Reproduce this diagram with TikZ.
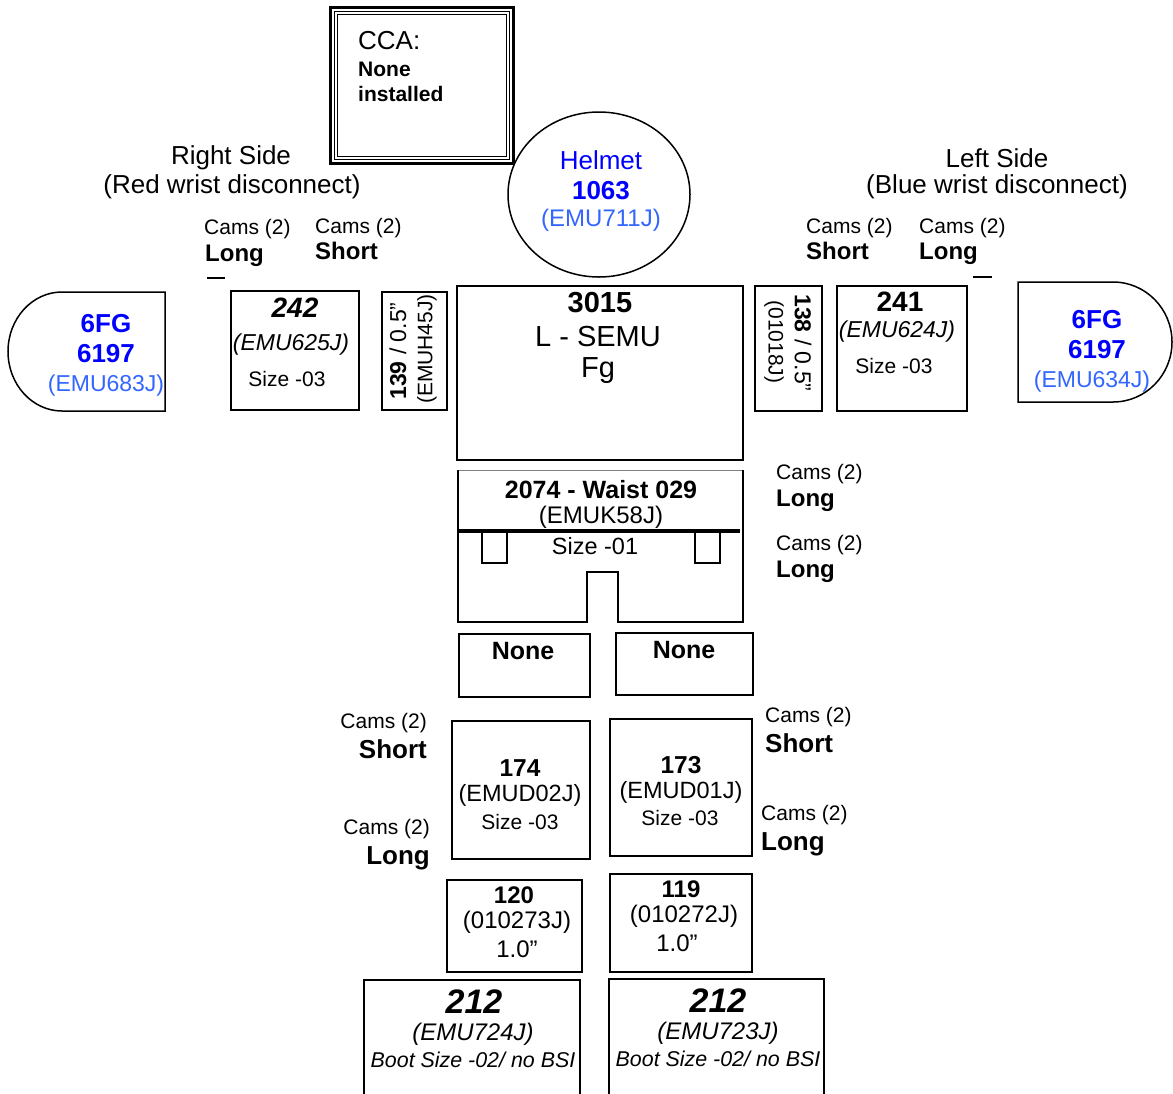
\documentclass[tikz,border=0pt]{standalone}
\usepackage{fontspec}
\setmainfont{Liberation Sans}
\usetikzlibrary{shapes.geometric}
\definecolor{hblue}{RGB}{0,0,255}
\definecolor{lblue}{RGB}{51,102,255}
\newcommand\fz[1]{\fontsize{#1pt}{#1pt}\selectfont}
\begin{document}
\begin{tikzpicture}[x=1pt,y=-1pt,
  lw/.style={line width=1.5pt},
  box/.style={draw,line width=1.5pt,fill=white,inner sep=0pt,anchor=north west},
  t/.style={inner sep=0pt,align=center},
  tl/.style={inner sep=0pt,anchor=west},
  tr/.style={inner sep=0pt,anchor=east},
  cams/.style={font=\fz{21},text height=15.1pt,text depth=0pt},
  lng/.style={font=\bfseries\fz{24},text height=17.3pt,text depth=0pt},
  lngl/.style={font=\bfseries\fz{26},text height=18.7pt,text depth=0pt}]
\useasboundingbox (0,0) rectangle (1173,1093);

% Helmet
\node[draw,lw,ellipse,minimum width=182pt,minimum height=165pt,inner sep=0pt] (helmet) at (599,194.5) {};
\node[t,font=\fz{26},text=hblue] (helm1) at (601,160) {Helmet};
\node[t,font=\bfseries\fz{26},text=hblue] (helm2) at (601,191) {1063};
\node[t,font=\fz{24},text=lblue] (helm3) at (601,220) {(EMU711J)};

% CCA
\draw[line width=3pt,fill=white] (330.5,7.5) rectangle (513.5,163.5);
\draw[line width=1.2pt] (334.5,11.5) rectangle (509.5,159.5);
\draw[line width=1.2pt] (337.5,14.5) rectangle (506.5,156.5);
\node[tl,font=\fz{26}] (cca1) at (358,41) {CCA:};
\node[tl,font=\bfseries\fz{21}] (cca2) at (358,69) {None};
\node[tl,font=\bfseries\fz{21}] (cca3) at (358,94) {installed};

% side headings
\node[t,font=\fz{26}] (rs1) at (231,158) {Right Side};
\node[t,font=\fz{26}] (rs2) at (232,187) {(Red wrist disconnect)};
\node[t,font=\fz{26}] (ls1) at (997,158) {Left Side};
\node[t,font=\fz{26}] (ls2) at (997,187) {(Blue wrist disconnect)};

% cams labels top
\node[tl,cams] (c1) at (204,227) {Cams (2)};
\node[tl,lng] (c1b) at (205,253) {Long};
\node[tl,cams] (c2) at (315,226) {Cams (2)};
\node[tl,lng] (c2b) at (315,251) {Short};
\node[tl,cams] (c3) at (806,226) {Cams (2)};
\node[tl,lng] (c3b) at (806,251) {Short};
\node[tl,cams] (c4) at (919,226) {Cams (2)};
\node[tl,lng] (c4b) at (919,251) {Long};
\coordinate (d1a) at (207,278); \coordinate (d1b) at (225,278);
\coordinate (d2a) at (973,277); \coordinate (d2b) at (992,277);
\draw[lw] (d1a) -- (d1b);
\draw[lw] (d2a) -- (d2b);

% gloves
\draw[lw] (165,292) -- (62,292) arc[start angle=270,end angle=90,x radius=54,y radius=59.5] -- (165,411) -- cycle;
\node[t,font=\bfseries\fz{26},text=hblue] (g1a) at (106,324) {6FG};
\node[t,font=\bfseries\fz{26},text=hblue] (g1b) at (106,354) {6197};
\node[t,font=\fz{23},text=lblue] (g1c) at (106,386) {(EMU683J)};
\draw[lw] (1018,282) -- (1113,282) arc[start angle=-90,end angle=90,x radius=59,y radius=60] -- (1018,402) -- cycle;
\node[t,font=\bfseries\fz{26},text=hblue] (g2a) at (1097,320) {6FG};
\node[t,font=\bfseries\fz{26},text=hblue] (g2b) at (1097,350) {6197};
\node[t,font=\fz{23},text=lblue] (g2c) at (1092,382) {(EMU634J)};

% arms
\node[box,minimum width=128pt,minimum height=119pt] (a242) at (230,290) {};
\node[t,font=\bfseries\itshape\fz{28}] (a242a) at (295,308) {242};
\node[t,font=\itshape\fz{23}] (a242b) at (291,345) {(EMU625J)};
\node[t,font=\fz{21}] (a242c) at (287,379) {Size -03};

\node[box,minimum width=130pt,minimum height=125pt] (a241) at (836,285) {};
\node[t,font=\bfseries\fz{28}] (a241a) at (900,302) {241};
\node[t,font=\itshape\fz{23}] (a241b) at (897,332) {(EMU624J)};
\node[t,font=\fz{21}] (a241c) at (894,366) {Size -03};

\node[box,minimum width=65pt,minimum height=118pt] (r139) at (381,291) {};
\node[t,font=\fz{23},rotate=90] (r139a) at (398,351) {\textbf{139} / 0.5”};
\node[t,font=\fz{21},rotate=90] (r139b) at (427,349) {(EMUH45J)};

\node[box,minimum width=67pt,minimum height=125pt] (r138) at (754,285) {};
\node[t,font=\fz{23},rotate=-90] (r138a) at (803,343) {\textbf{138} / 0.5”};
\node[t,font=\fz{21},rotate=-90] (r138b) at (774,342) {(01018J)};

% torso
\node[box,minimum width=286pt,minimum height=174pt] (torso) at (456,285) {};
\node[t,font=\bfseries\fz{29}] (to1) at (600,303) {3015};
\node[t,font=\fz{29}] (to2) at (598,337) {L - SEMU};
\node[t,font=\fz{29}] (to3) at (598,371) {Fg};

% waist
\draw[gray,line width=1pt] (458,470) -- (743,470);
\draw[lw] (458,470) -- (458,622) -- (587,622) -- (587,572) -- (618,572) -- (618,622) -- (743,622) -- (743,470);
\draw[lw] (482,531) -- (482,563) -- (507,563) -- (507,531);
\draw[lw] (695,531) -- (695,563) -- (720,563) -- (720,531);
\draw[line width=4pt] (458,531) -- (740,531);
\node[t,font=\bfseries\fz{25}] (w1) at (601,490) {2074 - Waist 029};
\node[t,font=\fz{24}] (w2) at (601,517) {(EMUK58J)};
\node[t,font=\fz{23.5}] (w3) at (595,546) {Size -01};
\node[tl,cams] (c5) at (776,472) {Cams (2)};
\node[tl,lng] (c5b) at (776,498) {Long};
\node[tl,cams] (c6) at (776,543) {Cams (2)};
\node[tl,lng] (c6b) at (776,569) {Long};

% none boxes
\node[box,minimum width=131pt,minimum height=63pt] (n1) at (458,633) {};
\node[t,font=\bfseries\fz{25}] (n1t) at (523,651) {None};
\node[box,minimum width=137pt,minimum height=62pt] (n2) at (615,632) {};
\node[t,font=\bfseries\fz{25}] (n2t) at (684,650) {None};

% legs
\node[box,minimum width=138pt,minimum height=138pt] (l174) at (451,720) {};
\node[t,font=\bfseries\fz{24.5}] (l174a) at (520,768) {174};
\node[t,font=\fz{23.5}] (l174b) at (520,795) {(EMUD02J)};
\node[t,font=\fz{21}] (l174c) at (520,822) {Size -03};
\node[box,minimum width=142pt,minimum height=137pt] (l173) at (609,718) {};
\node[t,font=\bfseries\fz{24.5}] (l173a) at (681,765) {173};
\node[t,font=\fz{23.5}] (l173b) at (681,792) {(EMUD01J)};
\node[t,font=\fz{21}] (l173c) at (680,818) {Size -03};

\node[tr,cams] (c7) at (427,721) {Cams (2)};
\node[tr,lngl] (c7b) at (427,749) {Short};
\node[tr,cams] (c8) at (430,827) {Cams (2)};
\node[tr,lngl] (c8b) at (430,855) {Long};
\node[tl,cams] (c9) at (765,715) {Cams (2)};
\node[tl,lngl] (c9b) at (765,743) {Short};
\node[tl,cams] (c10) at (761,813) {Cams (2)};
\node[tl,lngl] (c10b) at (761,841) {Long};

% ankles
\node[box,minimum width=135pt,minimum height=92pt] (k120) at (446,879) {};
\node[t,font=\bfseries\fz{24}] (k120a) at (514,895) {120};
\node[t,font=\fz{24}] (k120b) at (517,922) {(010273J)};
\node[t,font=\fz{24}] (k120c) at (517,949) {1.0”};
\node[box,minimum width=142pt,minimum height=98pt] (k119) at (609,873) {};
\node[t,font=\bfseries\fz{24}] (k119a) at (681,889) {119};
\node[t,font=\fz{24}] (k119b) at (684,916) {(010272J)};
\node[t,font=\fz{24}] (k119c) at (677,943) {1.0”};

% boots
\draw[lw] (364,1096) -- (364,980) -- (580,980) -- (580,1096);
\draw[lw] (609,1096) -- (609,979) -- (824,979) -- (824,1096);
\node[t,font=\bfseries\itshape\fz{34}] (b1a) at (474,1002) {212};
\node[t,font=\itshape\fz{24}] (b1b) at (473,1034) {(EMU724J)};
\node[t,font=\itshape\fz{21.4}] (b1c) at (473,1060) {Boot Size -02/ no BSI};
\node[t,font=\bfseries\itshape\fz{34}] (b2a) at (718,1001) {212};
\node[t,font=\itshape\fz{24}] (b2b) at (718,1033) {(EMU723J)};
\node[t,font=\itshape\fz{21.4}] (b2c) at (718,1059) {Boot Size -02/ no BSI};
\end{tikzpicture}
\end{document}
